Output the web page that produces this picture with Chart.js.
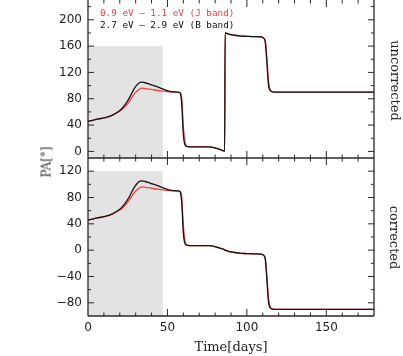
<!DOCTYPE html>
<html>
<head>
<meta charset="utf-8">
<script src="https://cdn.jsdelivr.net/npm/chart.js@4.4.1/dist/chart.umd.min.js"></script>
<style>
  html, body { margin: 0; padding: 0; background: #fff; }
  #wrap { position: relative; width: 403px; height: 356px; overflow: hidden; }
  #c { position: absolute; left: 0; top: 0; }
  .lbl { position: absolute; white-space: nowrap; color: #222; }
  .leg { font-family: "DejaVu Sans Mono", monospace; font-size: 9.3px; line-height: 11px; left: 100px; }
  .rot { transform-origin: center center; }
</style>
</head>
<body>
<div id="wrap">
  <canvas id="c" width="403" height="356"></canvas>
  <div class="lbl leg" style="top:7px; color:#ff3b3b;">0.9 eV – 1.1 eV (J band)</div>
  <div class="lbl leg" style="top:19px; color:#111;">2.7 eV – 2.9 eV (B band)</div>
  <div class="lbl rot" id="pa" style="font-family:'DejaVu Serif',serif; font-size:12px; color:#333;">PA[°]</div>
  <div class="lbl rot" id="unc" style="font-family:'DejaVu Serif',serif; font-size:13px;">uncorrected</div>
  <div class="lbl rot" id="cor" style="font-family:'DejaVu Serif',serif; font-size:13px;">corrected</div>
</div>
<script>
// ---- data ----
const time = [0, 4, 8, 12, 16, 20, 23, 26, 29, 32, 34, 36, 39, 42, 45, 48, 51, 54, 57, 58, 59, 60, 61, 62, 64, 70, 76, 80, 83, 86, 86.3, 88, 91, 95, 100, 105, 109, 110.5, 111.5, 112.5, 113.5, 114.5, 116, 120, 140, 160, 180];

const bBandUncorrected = [45.8, 48, 50, 52, 56, 62, 70, 81, 95, 104, 105.3, 104.3, 102, 99.5, 97, 94, 91.5, 90.5, 90, 88.5, 72, 26, 10, 7.5, 7, 7, 7, 5.5, 3, 0.5, 180, 178.5, 177, 175.5, 174.8, 174.3, 174, 172, 167, 138, 103, 93, 90.5, 90, 90, 90, 90];
const jBandUncorrected = [45.8, 48, 50, 52, 56, 61, 67, 76, 87, 94, 96, 95.5, 94.5, 93.3, 92.3, 91.3, 90.5, 90.2, 89.8, 89, 80, 38, 15, 8, 7, 7, 7, 5.5, 3, 0.5, 180, 178.5, 177, 175.5, 174.8, 174.3, 174, 172.5, 169, 145, 110, 95, 91, 90, 90, 90, 90];

const bBandCorrected = [45.8, 48, 50, 52, 56, 62, 70, 81, 95, 104, 105.3, 104.3, 102, 99.5, 97, 94, 91.5, 90.5, 90, 88.5, 72, 26, 10, 7.5, 7, 7, 7, 5.5, 3, 0.5, 0, -1.5, -3, -4.5, -5.2, -5.7, -6, -8, -13, -42, -77, -87, -89.5, -90, -90, -90, -90];
const jBandCorrected = [45.8, 48, 50, 52, 56, 61, 67, 76, 87, 94, 96, 95.5, 94.5, 93.3, 92.3, 91.3, 90.5, 90.2, 89.8, 89, 80, 38, 15, 8, 7, 7, 7, 5.5, 3, 0.5, 0, -1.5, -3, -4.5, -5.2, -5.7, -6, -7.5, -11, -35, -70, -85, -89, -90, -90, -90, -90];

const xTickValues = [0, 50, 100, 150];
const topTickValues = [0, 40, 80, 120, 160, 200];
const bottomTickValues = [-80, -40, 0, 40, 80, 120];

const shadeStart = 0, shadeEnd = 47;
const shadeTopLimit = 160, shadeBottomLimit = 120;

// ---- helpers ----
const pts = arr => arr.map((v, i) => ({ x: time[i], y: v }));
const RED = '#ff3b3b', BLACK = '#151515', AXIS = '#2a2a2a';
const tickFont = { family: 'DejaVu Sans', size: 12 };
const fmt = v => String(v).replace('-', '\u2212');

const framePlugin = {
  id: 'frame',
  beforeDatasetsDraw(chart) {
    const { ctx, scales: { x, yTop, yBot } } = chart;
    ctx.save();
    ctx.fillStyle = '#e3e3e3';
    [[yTop, shadeTopLimit], [yBot, shadeBottomLimit]].forEach(([s, lim]) => {
      const x0 = x.getPixelForValue(shadeStart), x1 = x.getPixelForValue(shadeEnd);
      const y0 = s.getPixelForValue(lim);
      ctx.fillRect(x0, y0, x1 - x0, s.bottom - y0);
    });
    ctx.restore();
  },
  afterDatasetsDraw(chart) {
    const { ctx, chartArea: ca, scales: { x, yTop, yBot } } = chart;
    ctx.save();
    ctx.strokeStyle = AXIS;
    ctx.lineWidth = 1.3;
    ctx.beginPath();
    ctx.moveTo(ca.left, ca.top); ctx.lineTo(ca.left, ca.bottom);
    ctx.moveTo(ca.right, ca.top); ctx.lineTo(ca.right, ca.bottom);
    ctx.moveTo(ca.left, yTop.bottom); ctx.lineTo(ca.right, yTop.bottom);
    ctx.moveTo(ca.left, yBot.bottom); ctx.lineTo(ca.right, yBot.bottom);
    ctx.stroke();
    ctx.lineWidth = 1;
    ctx.beginPath();
    [yTop, yBot].forEach(s => {
      for (let v = 10; v < x.max; v += 10) {
        const px = x.getPixelForValue(v);
        const len = v % 50 === 0 ? 7 : 3.5;
        ctx.moveTo(px, s.bottom); ctx.lineTo(px, s.bottom - len);
        ctx.moveTo(px, s.top); ctx.lineTo(px, s.top + len);
      }
      const start = Math.ceil(s.min / 20) * 20;
      for (let v = start; v <= s.max; v += 20) {
        const py = s.getPixelForValue(v);
        if (py <= s.top + 0.5 || py >= s.bottom - 0.5) continue;
        const len = v % 40 === 0 ? 6 : 3;
        ctx.moveTo(ca.left, py); ctx.lineTo(ca.left + len, py);
        ctx.moveTo(ca.right, py); ctx.lineTo(ca.right - len, py);
      }
    });
    ctx.stroke();
    ctx.restore();
  }
};

const yCommon = (min, max, ticksArr) => ({
  type: 'linear', position: 'left', stack: 'pa', stackWeight: 1,
  min, max,
  grid: { display: false, drawTicks: false },
  border: { display: false },
  ticks: { font: tickFont, color: '#222', padding: 6, callback: v => fmt(v) },
  afterBuildTicks: s => { s.ticks = ticksArr.map(v => ({ value: v })); },
  afterFit: s => { s.width = 88; s.paddingTop = 0; s.paddingBottom = 0; }
});

const ds = (data, color, axis, order) => ({
  data: pts(data), yAxisID: axis, borderColor: color, borderWidth: 1.3,
  pointRadius: 0, fill: false, cubicInterpolationMode: 'monotone', order
});

const chart = new Chart(document.getElementById('c'), {
  type: 'line',
  data: {
    datasets: [
      ds(jBandUncorrected, RED, 'yTop', 2),
      ds(bBandUncorrected, BLACK, 'yTop', 1),
      ds(jBandCorrected, RED, 'yBot', 2),
      ds(bBandCorrected, BLACK, 'yBot', 1)
    ]
  },
  options: {
    responsive: false, animation: false, devicePixelRatio: 1,
    layout: { padding: { top: 0, right: 29, bottom: 0, left: 0 } },
    plugins: { legend: { display: false }, tooltip: { enabled: false } },
    scales: {
      x: {
        type: 'linear', min: 0, max: 180,
        grid: { display: false, drawTicks: false },
        border: { display: false },
        ticks: { font: tickFont, color: '#222', padding: 5, maxRotation: 0 },
        afterBuildTicks: s => { s.ticks = xTickValues.map(v => ({ value: v })); },
        afterFit: s => { s.height = 40; s.paddingLeft = 0; s.paddingRight = 0; },
        title: { display: true, text: 'Time[days]', color: '#222',
                 font: { family: 'DejaVu Serif', size: 13 }, padding: { top: 0, bottom: 1 } }
      },
      yBot: yCommon(-100, 140, bottomTickValues),
      yTop: yCommon(-10, 230, topTickValues)
    }
  },
  plugins: [framePlugin]
});

function place(id, cx, cy, deg) {
  const el = document.getElementById(id);
  const w = el.offsetWidth, h = el.offsetHeight;
  el.style.left = (cx - w / 2) + 'px';
  el.style.top = (cy - h / 2) + 'px';
  el.style.transform = 'rotate(' + deg + 'deg)';
}
place('pa', 46, 162, -90);
place('unc', 395, 80, 90);
place('cor', 395, 237, 90);
</script>
</body>
</html>
